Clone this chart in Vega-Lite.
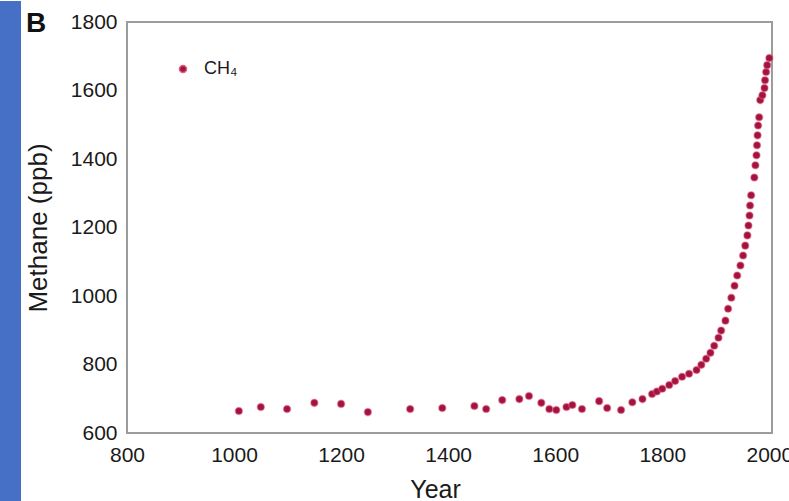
{
  "$schema": "https://vega.github.io/schema/vega-lite/v6.json",
  "padding": 0,
  "background": "#ffffff",
  "spacing": 106,
  "bounds": "flush",
  "config": {"font": "Liberation Sans"},
  "hconcat": [
    {
      "width": 21,
      "height": 411,
      "view": {"stroke": null},
      "data": {"values": [{}]},
      "mark": {"type": "rect", "color": "#4570c6"},
      "encoding": {
        "x": {"datum": 0, "type": "quantitative", "scale": {"domain": [0, 1], "nice": false, "zero": false}, "axis": null},
        "x2": {"datum": 1},
        "y": {"datum": -0.22, "type": "quantitative", "scale": {"domain": [0, 1], "nice": false, "zero": false}, "axis": null},
        "y2": {"datum": 1.0511}
      }
    },
    {
      "width": 645,
      "height": 411,
      "view": {"stroke": "#9c9c9c", "strokeWidth": 2},
      "title": {"text": "B", "anchor": "start", "frame": "group", "fontSize": 28, "fontWeight": "bold", "color": "#111111", "dx": -101, "dy": 27, "offset": 0},
      "data": {"values": [
        {"year": 1009, "ppb": 664}, {"year": 1050, "ppb": 676}, {"year": 1099, "ppb": 670}, {"year": 1150, "ppb": 688},
        {"year": 1200, "ppb": 685}, {"year": 1250, "ppb": 661}, {"year": 1329, "ppb": 670}, {"year": 1389, "ppb": 673},
        {"year": 1449, "ppb": 679}, {"year": 1471, "ppb": 670}, {"year": 1501, "ppb": 696}, {"year": 1533, "ppb": 699},
        {"year": 1551, "ppb": 708}, {"year": 1574, "ppb": 688}, {"year": 1589, "ppb": 670}, {"year": 1602, "ppb": 667},
        {"year": 1621, "ppb": 676}, {"year": 1632, "ppb": 682}, {"year": 1650, "ppb": 670}, {"year": 1682, "ppb": 693},
        {"year": 1697, "ppb": 673}, {"year": 1723, "ppb": 667}, {"year": 1744, "ppb": 690}, {"year": 1763, "ppb": 699},
        {"year": 1781, "ppb": 714}, {"year": 1790, "ppb": 721}, {"year": 1800, "ppb": 729}, {"year": 1813, "ppb": 740},
        {"year": 1824, "ppb": 752}, {"year": 1837, "ppb": 764}, {"year": 1850, "ppb": 773}, {"year": 1864, "ppb": 784},
        {"year": 1873, "ppb": 799}, {"year": 1882, "ppb": 817}, {"year": 1890, "ppb": 834}, {"year": 1897, "ppb": 855},
        {"year": 1905, "ppb": 878}, {"year": 1910, "ppb": 899}, {"year": 1918, "ppb": 928}, {"year": 1923, "ppb": 963},
        {"year": 1929, "ppb": 995}, {"year": 1935, "ppb": 1030}, {"year": 1940, "ppb": 1060}, {"year": 1946, "ppb": 1089},
        {"year": 1951, "ppb": 1118}, {"year": 1955, "ppb": 1147}, {"year": 1959, "ppb": 1177}, {"year": 1961, "ppb": 1206},
        {"year": 1963, "ppb": 1235}, {"year": 1964, "ppb": 1264}, {"year": 1966, "ppb": 1294}, {"year": 1972, "ppb": 1346},
        {"year": 1974, "ppb": 1382}, {"year": 1976, "ppb": 1411}, {"year": 1977, "ppb": 1440}, {"year": 1978, "ppb": 1469},
        {"year": 1979, "ppb": 1498}, {"year": 1981, "ppb": 1522}, {"year": 1983, "ppb": 1572}, {"year": 1987, "ppb": 1586},
        {"year": 1991, "ppb": 1607}, {"year": 1992, "ppb": 1630}, {"year": 1994, "ppb": 1654}, {"year": 1996, "ppb": 1674},
        {"year": 2000, "ppb": 1695}
      ]},
      "mark": {"type": "circle", "size": 50, "opacity": 1, "stroke": "#e0607f", "strokeWidth": 1.5, "strokeOpacity": 0.45},
      "encoding": {
        "x": {
          "field": "year", "type": "quantitative",
          "scale": {"domain": [800, 2005], "nice": false, "zero": false},
          "axis": {"title": "Year", "values": [800, 1000, 1200, 1400, 1600, 1800, 2000], "format": "d", "grid": false, "domain": false, "ticks": false, "labelFlush": false,
                   "labelPadding": 11, "labelFontSize": 21, "labelColor": "#1a1a1a", "titleFontSize": 25, "titleFontWeight": "normal", "titleColor": "#1a1a1a", "titlePadding": 12, "titleX": 308}
        },
        "y": {
          "field": "ppb", "type": "quantitative",
          "scale": {"domain": [600, 1800], "nice": false, "zero": false},
          "axis": {"title": "Methane  (ppb)", "values": [600, 800, 1000, 1200, 1400, 1600, 1800], "format": "d", "grid": false, "domain": false, "ticks": false, "labelFlush": false,
                   "labelPadding": 10, "labelFontSize": 21, "labelColor": "#1a1a1a", "titleFontSize": 26, "titleFontWeight": "normal", "titleColor": "#1a1a1a", "titlePadding": 19}
        },
        "color": {
          "datum": "CH₄", "type": "nominal",
          "scale": {"range": ["#a3133f"]},
          "legend": {"title": null, "orient": "none", "legendX": 174, "legendY": 38, "padding": 0, "labelFontSize": 18, "labelColor": "#1a1a1a", "labelOffset": 12, "symbolSize": 50, "symbolType": "circle"}
        }
      }
    }
  ]
}
